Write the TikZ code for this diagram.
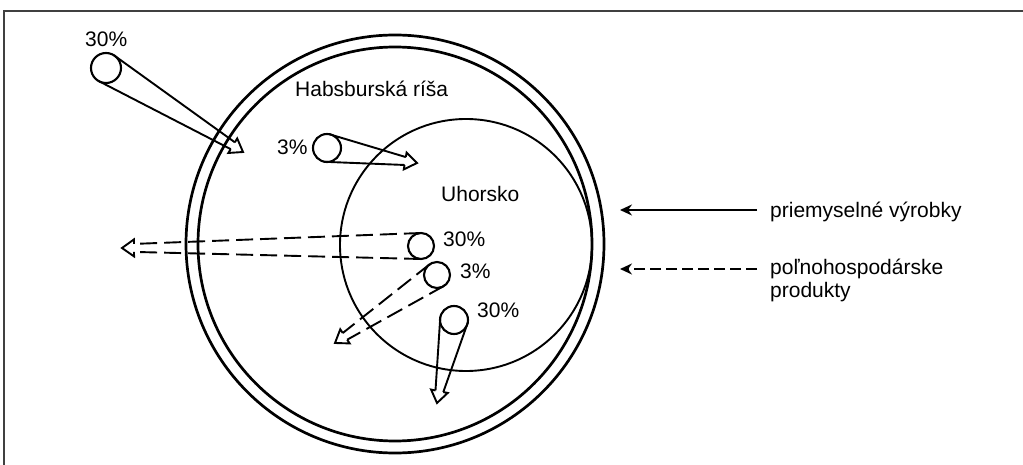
\documentclass[tikz,border=0pt]{standalone}
\usepackage{fontspec}
\setmainfont{Liberation Sans}
\usetikzlibrary{calc,arrows.meta}
\tikzset{
  ring/.style={draw, line width=2.7pt},
  lab/.style={font=\fontsize{21}{24}\selectfont, inner sep=0pt, anchor=base west},
  src/.style={circle, draw, line width=2.1pt, inner sep=0pt, minimum size=#1},
  pipeline/.style={line width=1.9pt},
  dsh/.style={dash pattern=on 17pt off 7pt},
  legendarrow/.style={line width=2.4pt, -{Stealth[length=12pt,width=11pt]}},
}
\newcommand\pipearrow[4]{%
  \coordinate (#3b) at ($(#3)!12pt!(#1)$);
  \draw[pipeline,#4] ($(#1)!#2!90:(#3)$) -- ($(#3b)!4pt!90:(#3)$);
  \draw[pipeline,#4] ($(#1)!#2!-90:(#3)$) -- ($(#3b)!4pt!-90:(#3)$);
  \draw[pipeline,line join=miter] ($(#3b)!4pt!90:(#3)$) -- ($(#3b)!8.5pt!90:(#3)$) -- (#3) -- ($(#3b)!8.5pt!-90:(#3)$) -- ($(#3b)!4pt!-90:(#3)$);
}
\begin{document}
\begin{tikzpicture}[x=1pt,y=-1pt]
\useasboundingbox (0,0) rectangle (1023,465);
% frame
\draw[line width=1.6pt, black!75] (4,465) -- (4,11) -- (1023,11);
% circles
\draw[ring] (395,244) circle[radius=209];
\draw[ring] (395,244) circle[radius=197];
\draw[line width=1.9pt] (466,245) circle[radius=126];
% labels
\node[lab] (habs) at (295,97) {Habsburská ríša};
\node[lab] (uhor) at (441,202) {Uhorsko};
% source circles
\node[src=30pt] (c1) at (106,68) {};
\node[src=28pt] (c2) at (327,148) {};
\node[src=26pt] (c3) at (421,246) {};
\node[src=26pt] (c4) at (437,275) {};
\node[src=28pt] (c5) at (454,320) {};
\node[lab] (p1) at (85,47) {30\%};
\node[lab] (p2) at (277,155) {3\%};
\node[lab] (p3) at (443,247) {30\%};
\node[lab] (p4) at (460,278) {3\%};
\node[lab] (p5) at (477,317) {30\%};
% tips
\coordinate (t1) at (243,152);
\coordinate (t2) at (417,163);
\coordinate (t3) at (122,248);
\coordinate (t4) at (335,343);
\coordinate (t5) at (437,403);
\pipearrow{c1}{15pt}{t1}{}
\pipearrow{c2}{14pt}{t2}{}
\pipearrow{c3}{13pt}{t3}{dsh}
\pipearrow{c4}{13pt}{t4}{dsh}
\pipearrow{c5}{14pt}{t5}{}
% legend
\node[lab] (lg1) at (770,218) {priemyselné výrobky};
\node[lab] (lg2a) at (770,275) {poľnohospodárske};
\node[lab] (lg2b) at (770,298) {produkty};
\coordinate (la1) at (757,210);
\coordinate (lb1) at (620,210);
\coordinate (la2) at (757,269);
\coordinate (lb2) at (620,269);
\draw[legendarrow] (la1) -- (lb1);
\draw[legendarrow, dash pattern=on 11pt off 5pt] (la2) -- (lb2);
\end{tikzpicture}
\end{document}
